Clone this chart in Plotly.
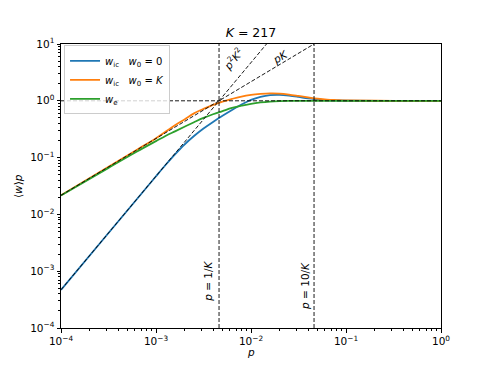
import plotly.graph_objects as go

K = 217

# sample positions (p values) and curve values
p_vals = [1e-4, 10**-3.5, 10**-3.2, 1e-3, 10**-2.9, 10**-2.8, 10**-2.7, 10**-2.6, 10**-2.5, 10**-2.4, 10**-2.3,
          10**-2.2, 10**-2.1, 1e-2, 10**-1.9, 10**-1.8, 10**-1.7, 10**-1.6, 10**-1.5,
          10**-1.4, 10**-1.3, 10**-1.2, 10**-1.1, 1e-1, 10**-0.5, 1.0]

w_ic_w0_0 = [4.7e-4, 4.7e-3, 0.0187, 0.047, 0.074, 0.114, 0.17, 0.24, 0.325, 0.425, 0.545,
             0.69, 0.86, 1.04, 1.175, 1.26, 1.275, 1.235, 1.17,
             1.10, 1.06, 1.03, 1.015, 1.005, 1.0, 1.0]

w_ic_w0_K = [0.0217, 0.069, 0.138, 0.22, 0.285, 0.37, 0.47, 0.60, 0.72, 0.85, 0.97,
             1.08, 1.19, 1.27, 1.32, 1.35, 1.34, 1.29, 1.22,
             1.15, 1.09, 1.05, 1.03, 1.015, 1.0, 1.0]

w_e = [0.0215, 0.066, 0.128, 0.195, 0.24, 0.29, 0.35, 0.42, 0.50, 0.58, 0.66,
       0.75, 0.82, 0.886, 0.935, 0.968, 0.987, 0.996, 0.999,
       1.0, 1.0, 1.0, 1.0, 1.0, 1.0, 1.0]

x_ticks = [1e-4, 1e-3, 1e-2, 1e-1, 1]
x_ticktext = ["10<sup>−4</sup>", "10<sup>−3</sup>", "10<sup>−2</sup>", "10<sup>−1</sup>", "10<sup>0</sup>"]
y_ticks = [1e-4, 1e-3, 1e-2, 1e-1, 1, 10]
y_ticktext = ["10<sup>−4</sup>", "10<sup>−3</sup>", "10<sup>−2</sup>", "10<sup>−1</sup>", "10<sup>0</sup>", "10<sup>1</sup>"]
minor_mults = [2, 3, 4, 5, 6, 7, 8, 9]
x_minor = [m * d for d in [1e-4, 1e-3, 1e-2, 1e-1] for m in minor_mults]
y_minor = [m * d for d in [1e-4, 1e-3, 1e-2, 1e-1, 1] for m in minor_mults]

# guide-line extents
p_guide_start = 1e-4
y_top = 10
y_bottom = 1e-4

FONT = "DejaVu Sans"
dash = "4px,2px"

fig = go.Figure()

fig.add_trace(go.Scatter(x=p_vals, y=w_ic_w0_0, mode="lines", line=dict(color="#1f77b4", width=1.8, shape="spline"),
                         name="<i>w</i><sub>ic</sub>   <i>w</i><sub>0</sub> = 0"))
fig.add_trace(go.Scatter(x=p_vals, y=w_ic_w0_K, mode="lines", line=dict(color="#ff7f0e", width=1.8, shape="spline"),
                         name="<i>w</i><sub>ic</sub>   <i>w</i><sub>0</sub> = <i>K</i>"))
fig.add_trace(go.Scatter(x=p_vals, y=w_e, mode="lines", line=dict(color="#2ca02c", width=1.8, shape="spline"),
                         name="<i>w</i><sub>e</sub>"))

dl = dict(color="black", width=0.9, dash=dash)
# p^2 K^2 guide
p_end2 = (y_top ** 0.5) / K
fig.add_trace(go.Scatter(x=[p_guide_start, p_end2], y=[(p_guide_start * K) ** 2, y_top], mode="lines",
                         line=dl, showlegend=False, hoverinfo="skip"))
# pK guide
p_end1 = y_top / K
fig.add_trace(go.Scatter(x=[p_guide_start, p_end1], y=[p_guide_start * K, y_top], mode="lines",
                         line=dl, showlegend=False, hoverinfo="skip"))
# horizontal at 1
fig.add_trace(go.Scatter(x=[1e-4, 1], y=[1, 1], mode="lines", line=dl, showlegend=False, hoverinfo="skip"))
# vertical at 1/K and 10/K
for pv in [1 / K, 10 / K]:
    fig.add_trace(go.Scatter(x=[pv, pv], y=[y_bottom, y_top], mode="lines", line=dl, showlegend=False, hoverinfo="skip"))

axis_common = dict(type="log", showgrid=False, zeroline=False, showline=True, linecolor="black", linewidth=1,
                   mirror=True, ticks="outside", ticklen=3.5, tickcolor="black", tickwidth=0.8,
                   tickfont=dict(family=FONT, size=10.5, color="black"))

fig.update_xaxes(range=[-4, 0], tickvals=x_ticks, ticktext=x_ticktext,
                 minor=dict(tickvals=x_minor, ticks="outside", ticklen=2, tickcolor="black", tickwidth=0.6, showgrid=False),
                 **axis_common)
fig.update_yaxes(range=[-4, 1], tickvals=y_ticks, ticktext=y_ticktext,
                 minor=dict(tickvals=y_minor, ticks="outside", ticklen=2, tickcolor="black", tickwidth=0.6, showgrid=False),
                 **axis_common)

annotations = [
    dict(text="<i>p</i><sup>2</sup><i>K</i><sup>2</sup>", x=-2.19, y=0.74, xref="x", yref="y", showarrow=False,
         textangle=-50, font=dict(family=FONT, size=10.5, color="black")),
    dict(text="<i>pK</i>", x=-1.70, y=0.78, xref="x", yref="y", showarrow=False,
         textangle=-31, font=dict(family=FONT, size=10.5, color="black")),
    dict(text="<i>p</i> = 1/<i>K</i>", x=-2.453, y=-3.17, xref="x", yref="y", showarrow=False,
         textangle=-90, font=dict(family=FONT, size=10.5, color="black")),
    dict(text="<i>p</i> = 10/<i>K</i>", x=-1.432, y=-3.26, xref="x", yref="y", showarrow=False,
         textangle=-90, font=dict(family=FONT, size=10.5, color="black")),
    dict(text="<i>p</i>", x=0.5, y=-0.085, xref="paper", yref="paper", showarrow=False, yanchor="middle",
         font=dict(family=FONT, size=10.5, color="black")),
    dict(text="⟨<i>w</i>⟩<i>p</i>", x=-0.113, y=0.5, xref="paper", yref="paper", showarrow=False,
         textangle=-90, xanchor="center", font=dict(family=FONT, size=10.5, color="black")),
]

fig.update_layout(
    width=490, height=368,
    margin=dict(l=61, r=49, t=44, b=40),
    paper_bgcolor="white", plot_bgcolor="white",
    title=dict(text="<i>K</i> = 217", x=0.5, xref="paper", xanchor="center", y=1 - 33 / 368, yref="container",
               yanchor="middle", font=dict(family=FONT, size=12.5, color="black")),
    legend=dict(x=0.008, y=0.995, xanchor="left", yanchor="top", bgcolor="rgba(255,255,255,0.8)",
                bordercolor="#cccccc", borderwidth=1, font=dict(family=FONT, size=10, color="black"),
                tracegroupgap=0, itemwidth=30),
    annotations=annotations,
    showlegend=True,
)

fig.write_html("out.html", config={"displayModeBar": False},
               post_script="document.body.style.margin='0px';")
